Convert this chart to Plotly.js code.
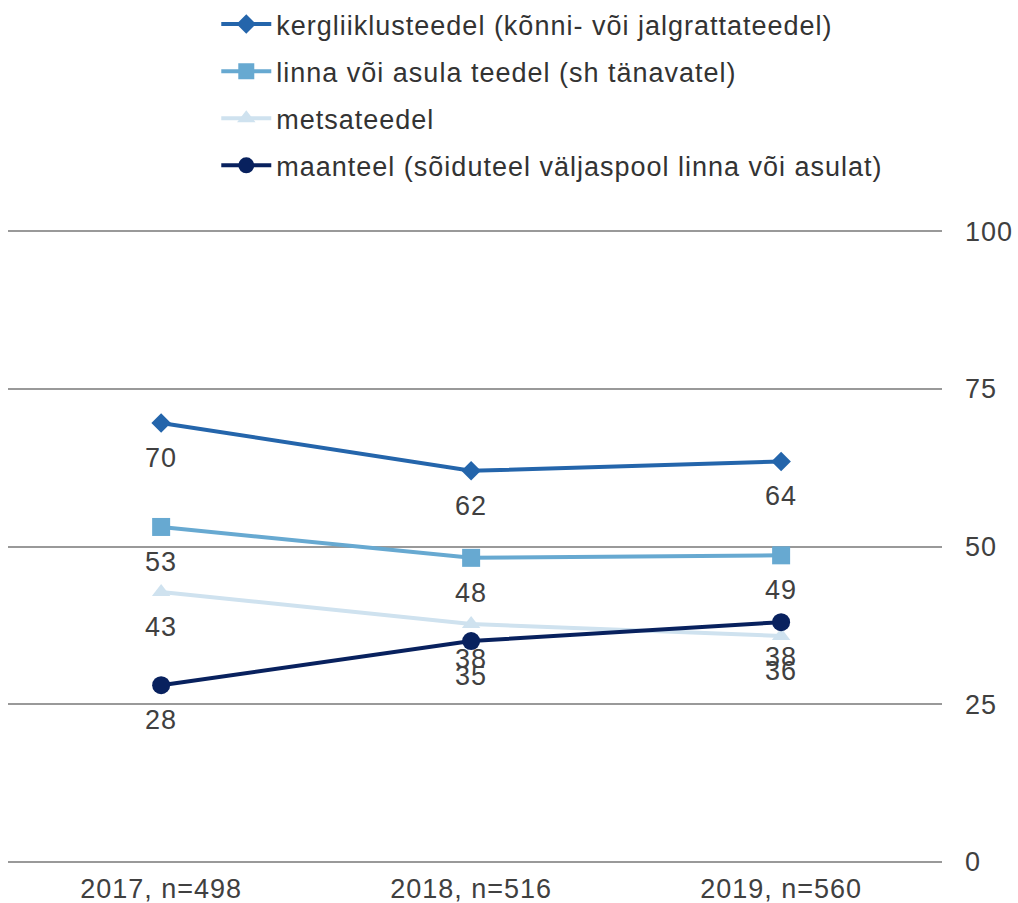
<!DOCTYPE html>
<html>
<head>
<meta charset="utf-8">
<script src="https://cdn.plot.ly/plotly-3.0.1.min.js"></script>
<style>
body{margin:0;padding:0;background:#fff;}
#chart{width:1018px;height:903px;}
text{letter-spacing:1px;}
</style>
</head>
<body>
<div id="chart"></div>
<script>
const categories = ["2017, n=498", "2018, n=516", "2019, n=560"];
const seriesNames = [
  "kergliiklusteedel (kõnni- või jalgrattateedel)",
  "linna või asula teedel (sh tänavatel)",
  "metsateedel",
  "maanteel (sõiduteel väljaspool linna või asulat)"
];
const kergliiklus = [69.6, 62.0, 63.5];
const linna = [53.1, 48.2, 48.6];
const metsa = [42.8, 37.7, 35.8];
const maantee = [28.0, 35.0, 38.0];
const yTicks = [0, 25, 50, 75, 100];

const allValues = [kergliiklus, linna, metsa, maantee];
const colors = ["#2465AB", "#67A9D1", "#CFE2EF", "#08215E"];
const symbols = ["diamond", "square", "triangle-up", "circle"];
const sizes = [15, 18, 16, 18];

const textColor = "#404040";
const fontFamily = "Liberation Sans, Arial, sans-serif";

const traces = allValues.map((vals, i) => ({
  type: "scatter",
  mode: "lines+markers",
  name: seriesNames[i],
  legendgroup: "g" + i,
  x: categories,
  y: vals,
  line: {color: colors[i], width: 4},
  marker: {color: colors[i], symbol: symbols[i], size: sizes[i]},
  hoverinfo: "x+y+name"
}));

const annotations = [];
allValues.forEach((vals, i) => {
  vals.forEach((v, j) => {
    annotations.push({
      x: categories[j], y: v, xref: "x", yref: "y",
      text: String(Math.round(v)),
      showarrow: false,
      yshift: -35,
      font: {family: fontFamily, size: 27, color: textColor}
    });
  });
});

const layout = {
  width: 1018, height: 903,
  margin: {l: 8, r: 76, t: 230, b: 40},
  paper_bgcolor: "#ffffff",
  plot_bgcolor: "#ffffff",
  font: {family: fontFamily, color: textColor, size: 27},
  showlegend: true,
  legend: {
    orientation: "v",
    x: 0.223, xanchor: "left",
    y: 1.0, yref: "container", yanchor: "top",
    font: {family: fontFamily, size: 27, color: "#333333"},
    tracegroupgap: 9,
    itemwidth: 50,
    bgcolor: "rgba(0,0,0,0)"
  },
  xaxis: {
    type: "category",
    range: [-0.494, 2.519],
    showgrid: false, zeroline: false, showline: false,
    ticks: "",
    ticklabelstandoff: 7,
    tickfont: {family: fontFamily, size: 27, color: textColor}
  },
  yaxis: {
    side: "right",
    range: [-0.2, 100.2],
    tickvals: yTicks,
    ticktext: yTicks.map(String),
    showgrid: true, gridcolor: "#999999", gridwidth: 2,
    zeroline: false, showline: false,
    ticks: "",
    ticklabelstandoff: 22,
    tickfont: {family: fontFamily, size: 27, color: textColor}
  },
  annotations: annotations
};

Plotly.newPlot("chart", traces, layout, {displayModeBar: false, staticPlot: true});
</script>
</body>
</html>
